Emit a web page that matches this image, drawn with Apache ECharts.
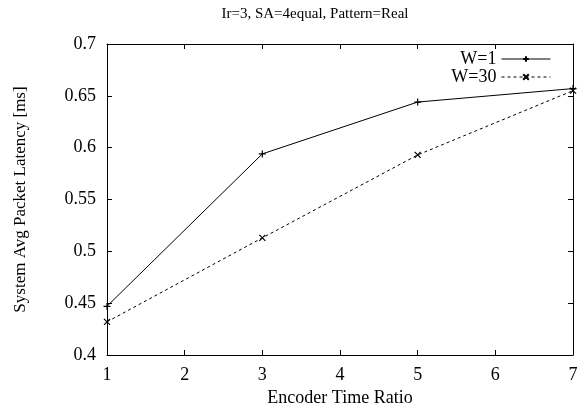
<!DOCTYPE html>
<html>
<head>
<meta charset="utf-8">
<script src="https://cdn.jsdelivr.net/npm/echarts@6/dist/echarts.min.js"></script>
<style>
html,body{margin:0;padding:0;background:#fff;}
#container{width:584px;height:414px;}
</style>
</head>
<body>
<div id="container"></div>
<script>
// data
var xRatio = [1, 3, 5, 7];
var w1 = [0.447, 0.594, 0.644, 0.657];
var w30 = [0.432, 0.513, 0.593, 0.655];
var seriesNames = ['W=1', 'W=30'];

var FONT = '"Liberation Serif", "DejaVu Serif", serif';
var FS = 18;
var plusPath = 'path://M0,-5L0,5M-5,0L5,0';
var crossPath = 'path://M-5,-5L5,5M5,-5L-5,5';

function pairs(xs, ys){
    return xs.map(function(x, i){ return [x, ys[i]]; });
}

var tickStyle = {show:true, inside:true, length:5, lineStyle:{color:'#000', width:1}};
var lineStyleAx = {show:true, lineStyle:{color:'#000', width:1}};

var option = {
    animation: false,
    backgroundColor: '#fff',
    textStyle: {fontFamily: FONT, color: '#000'},
    title: {
        text: 'Ir=3, SA=4equal, Pattern=Real',
        left: 310,
        textAlign: 'center',
        top: 2,
        textStyle: {fontFamily: FONT, fontSize: 15, fontWeight: 'normal', color: '#000'}
    },
    grid: {left: 107, right: 11, top: 44, bottom: 59},
    legend: {
        orient: 'vertical',
        right: 28,
        top: 45,
        align: 'right',
        itemWidth: 49,
        itemHeight: 7,
        itemGap: 0,
        data: seriesNames,
        lineStyle: {width: 1},
        textStyle: {fontFamily: FONT, fontSize: FS, color: '#000'}
    },
    xAxis: [{
        type: 'value',
        min: 1, max: 7, interval: 1,
        name: 'Encoder Time Ratio',
        nameLocation: 'middle',
        nameGap: 34,
        nameTextStyle: {fontFamily: FONT, fontSize: FS, color: '#000'},
        axisLine: lineStyleAx,
        axisTick: tickStyle,
        splitLine: {show:false},
        axisLabel: {fontFamily: FONT, fontSize: FS, color: '#000', margin: 11}
    }, {
        type: 'value', position: 'top',
        min: 1, max: 7, interval: 1,
        axisLine: lineStyleAx,
        axisTick: tickStyle,
        splitLine: {show:false},
        axisLabel: {show:false}
    }],
    yAxis: [{
        type: 'value',
        min: 0.4, max: 0.7, interval: 0.05,
        name: 'System Avg Packet Latency [ms]',
        nameLocation: 'middle',
        nameGap: 78,
        nameTextStyle: {fontFamily: FONT, fontSize: 17, color: '#000'},
        axisLine: lineStyleAx,
        axisTick: tickStyle,
        splitLine: {show:false},
        axisLabel: {fontFamily: FONT, fontSize: FS, color: '#000', margin: 11,
            formatter: function(v){ return String(parseFloat(v.toFixed(2))); }}
    }, {
        type: 'value', position: 'right',
        min: 0.4, max: 0.7, interval: 0.05,
        axisLine: lineStyleAx,
        axisTick: tickStyle,
        splitLine: {show:false},
        axisLabel: {show:false}
    }],
    series: [{
        name: seriesNames[0],
        type: 'line',
        data: pairs(xRatio, w1),
        symbol: plusPath,
        symbolSize: 7,
        lineStyle: {color:'#000', width:1},
        itemStyle: {color:'#000', borderColor:'#000', borderWidth:1.2}
    }, {
        name: seriesNames[1],
        type: 'line',
        data: pairs(xRatio, w30),
        symbol: crossPath,
        symbolSize: 6,
        lineStyle: {color:'#000', width:1, type:[3,3]},
        itemStyle: {color:'#000', borderColor:'#000', borderWidth:1.2}
    }]
};

var chart = echarts.init(document.getElementById('container'));
chart.setOption(option);
</script>
</body>
</html>
